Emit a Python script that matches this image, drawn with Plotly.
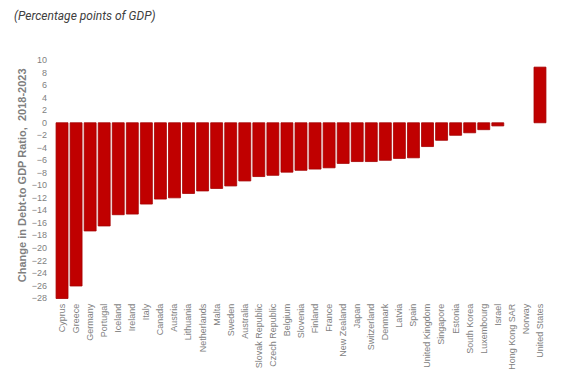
import plotly.graph_objects as go

countries = ["Cyprus", "Greece", "Germany", "Portugal", "Iceland", "Ireland", "Italy",
             "Canada", "Austria", "Lithuania", "Netherlands", "Malta", "Sweden",
             "Australia", "Slovak Republic", "Czech Republic", "Belgium", "Slovenia",
             "Finland", "France", "New Zealand", "Japan", "Switzerland", "Denmark",
             "Latvia", "Spain", "United Kingdom", "Singapore", "Estonia", "South Korea",
             "Luxembourg", "Israel", "Hong Kong SAR", "Norway", "United States"]
changes = [-28.1, -26.1, -17.3, -16.5, -14.7, -14.6, -13.0,
           -12.2, -12.0, -11.3, -10.9, -10.5, -10.1,
           -9.3, -8.6, -8.4, -7.9, -7.6,
           -7.4, -7.2, -6.5, -6.2, -6.2, -6.0,
           -5.7, -5.6, -3.8, -2.8, -2.0, -1.6,
           -1.1, -0.5, 0.0, 0.0, 8.9]
y_ticks = list(range(-28, 11, 2))

outline_w = [0 if v == 0 else 0.8 for v in changes]

fig = go.Figure(go.Bar(
    x=countries, y=changes,
    marker=dict(color="#C00000", line=dict(color="#A50000", width=outline_w)),
))

fig.update_layout(
    width=570, height=390,
    margin=dict(l=47, r=31, t=51, b=97, autoexpand=False),
    paper_bgcolor="white", plot_bgcolor="white",
    bargap=0.15,
    showlegend=False,
    font=dict(family="Liberation Sans, Arial, sans-serif", color="#7f7f7f"),
    annotations=[
        dict(
            text="<i>(Percentage points of GDP)</i>",
            xref="paper", yref="paper", x=0, y=1.0, xanchor="left", yanchor="top",
            xshift=-42, yshift=51, showarrow=False, borderpad=0,
            font=dict(family="Roboto, sans-serif", size=12, color="#404040"),
        ),
        dict(
            text="<b>Change in Debt-to GDP Ratio,  2018-2023</b>",
            xref="paper", yref="paper", x=0, y=0.52, xanchor="center", yanchor="middle",
            xshift=-33, textangle=-90, showarrow=False,
            font=dict(family="Liberation Sans, Arial, sans-serif", size=11, color="#7f7f7f"),
        ),
    ],
)

fig.update_xaxes(
    tickangle=-90, tickfont=dict(size=9, color="#7f7f7f"),
    showgrid=False, showline=False, zeroline=False, ticks="", automargin=False,
)
fig.update_yaxes(
    range=[-28.5, 10.2], tickvals=y_ticks,
    tickfont=dict(size=9, color="#7f7f7f"), ticklabelstandoff=7,
    showgrid=False, showline=False, zeroline=False, ticks="", automargin=False,
)

fig.write_html("out.html")
